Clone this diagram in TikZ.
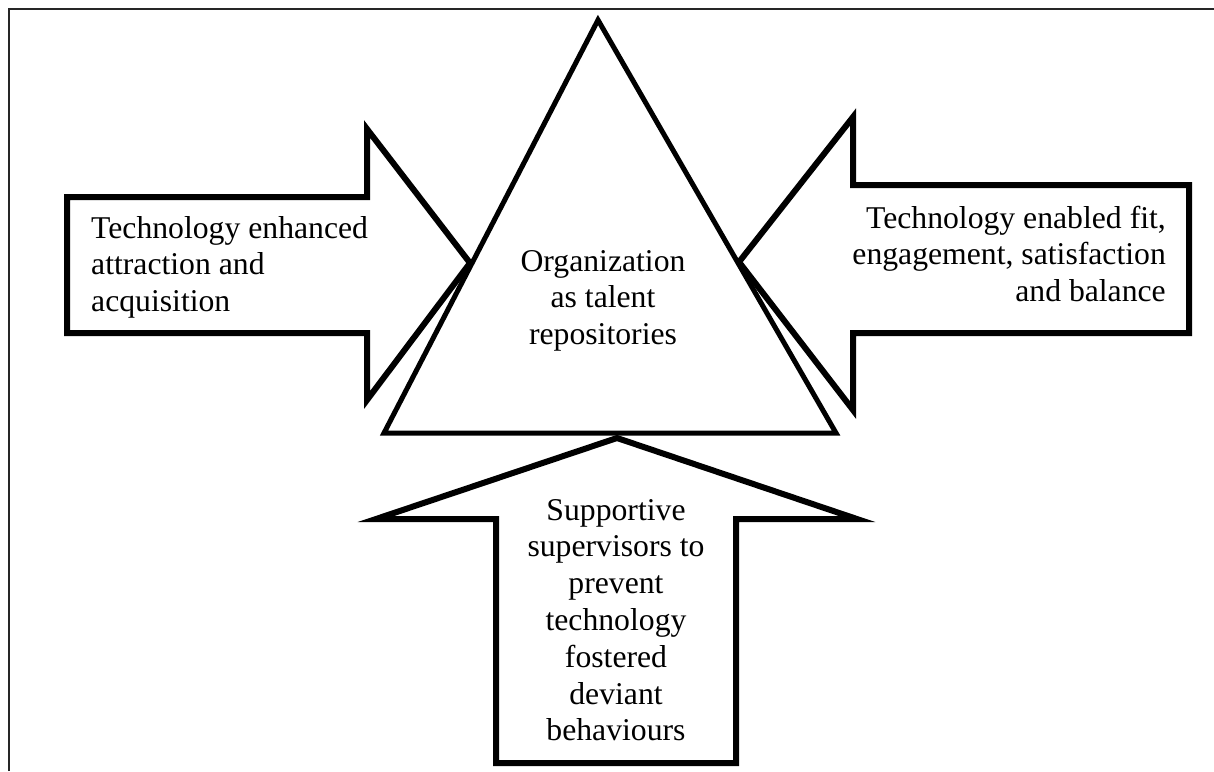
\documentclass[tikz,border=0pt]{standalone}
\usepackage{fontspec}
\setmainfont{Liberation Serif}
\usepackage{tikz}
\usetikzlibrary{positioning}

\begin{document}
\begin{tikzpicture}[x=1pt, y=-1pt,
    frame/.style={line width=2pt, draw=black!85},
    outline/.style={draw, line width=#1, fill=white, line join=miter, miter limit=12},
    outline/.default=6pt,
    lbl/.style={font=\fontsize{31.7}{36.8}\selectfont, inner sep=0pt, align=#1},
]
    \useasboundingbox (0, 0) rectangle (1214, 771);

    % page frame (only top and left edges fall inside)
    \draw[frame] (9, 771) -- (9, 9) -- (1214, 9);

    % === block arrows ===
    \draw[outline] (67, 197) -- (367, 197) -- (367, 129) -- (470, 263)
        -- (367, 400) -- (367, 333) -- (67, 333) -- cycle;
    \draw[outline] (1189, 185) -- (853, 185) -- (853, 117) -- (739, 262)
        -- (853, 410) -- (853, 333) -- (1189, 333) -- cycle;
    \draw[outline] (496, 763) -- (496, 519) -- (376, 519) -- (617, 438)
        -- (857, 519) -- (736, 519) -- (736, 763) -- cycle;

    % === centre triangle ===
    \draw[outline=5pt] (598, 20) -- (836, 433) -- (384, 433) -- cycle;

    % === labels ===
    \node[lbl=left, anchor=north west] (attract) at (91, 212.2)
        {\strut Technology enhanced\\attraction and\\acquisition};
    \node[lbl=right, anchor=north east] (engage) at (1166, 202.2)
        {\strut Technology enabled fit,\\engagement, satisfaction\\and balance};
    \node[lbl=center, anchor=north] (repo) at (603, 245.2)
        {\strut Organization\\as talent\\repositories};
    \node[lbl=center, anchor=north] (support) at (616, 494.2)
        {\strut Supportive\\supervisors to\\prevent\\technology\\fostered\\deviant\\behaviours};
\end{tikzpicture}
\end{document}
